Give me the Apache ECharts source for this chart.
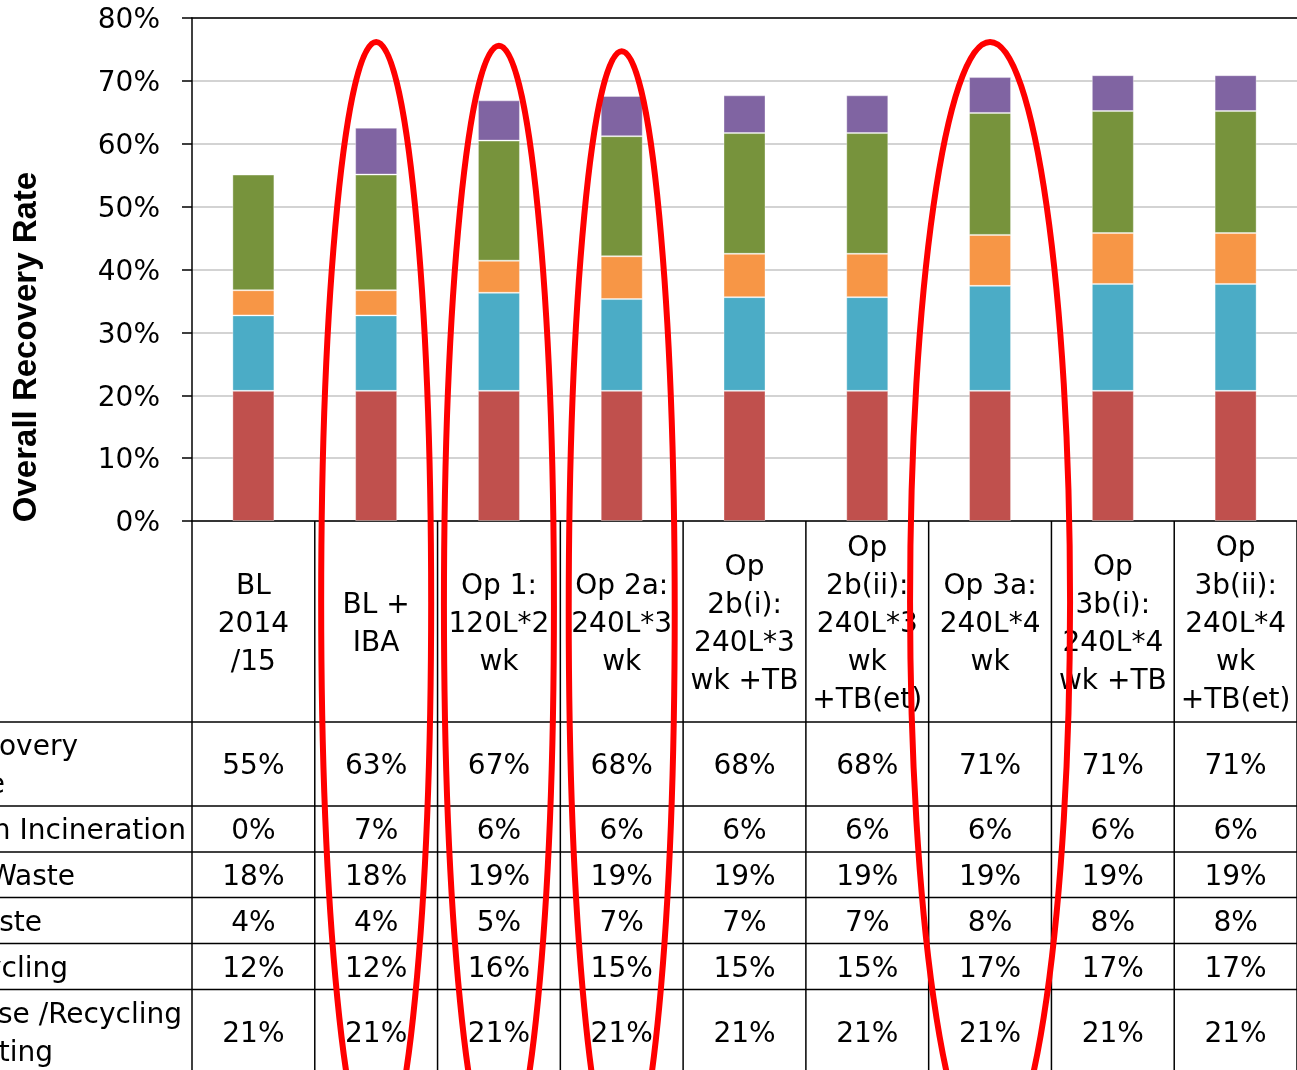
<!DOCTYPE html>
<html><head><meta charset="utf-8">
<script src="https://cdn.jsdelivr.net/npm/echarts@6/dist/echarts.min.js"></script>
<style>html,body{margin:0;padding:0;background:#fff}#c{width:1297px;height:1070px}</style>
</head><body><div id="c"></div>
<script>
// ---- data ----
const categories = ["BL\n2014\n/15", "BL +\nIBA", "Op 1:\n120L*2\nwk", "Op 2a:\n240L*3\nwk",
  "Op\n2b(i):\n240L*3\nwk +TB", "Op\n2b(ii):\n240L*3\nwk\n+TB(et)", "Op 3a:\n240L*4\nwk",
  "Op\n3b(i):\n240L*4\nwk +TB", "Op\n3b(ii):\n240L*4\nwk\n+TB(et)"];
const reuseRecycling = [20.7, 20.7, 20.7, 20.7, 20.7, 20.7, 20.7, 20.7, 20.7];
const dryRecycling   = [12.0, 12.0, 15.6, 14.6, 14.9, 14.9, 16.7, 17.0, 17.0];
const foodWaste      = [4.0, 4.0, 5.1, 6.8, 6.9, 6.9, 8.1, 8.1, 8.1];
const gardenWaste    = [18.4, 18.4, 19.1, 19.1, 19.2, 19.2, 19.4, 19.4, 19.4];
const incineration   = [0, 7.45, 6.4, 6.4, 6.0, 6.0, 5.7, 5.7, 5.7];
const yTicks = [0, 10, 20, 30, 40, 50, 60, 70, 80];
const axisTitle = "Overall Recovery Rate";
// table row labels (cropped on the left in the source)
const rowLabels = [["Overall Recovery", "Rate"], ["Recovery from Incineration"], ["Garden Waste"],
  ["Food Waste"], ["Dry Recycling"], ["HWRC Reuse /Recycling", "/Composting"]];
// annotation ellipses (category index, value at top of ellipse)
const ringCats = [1, 2, 3, 6];
const ringTops = [76.2, 75.6, 74.7, 76.2];

// ---- layout / style ----
const FONT = "DejaVu Sans";
const COLORS = {red: "#C0504D", blue: "#4BACC6", orange: "#F79646", green: "#77933C", purple: "#8064A2"};
const GRID = {left: 192, top: 18, width: 1109, height: 503};
const rowHeights = [201, 84, 46, 45.5, 46, 46, 84];
const rowLabelEnds = [[78, 5], [186], [75], [42], [68], [182, 53]];
const ringRx = [55, 55, 53, 80];
const ringRy = 560;
const TEXT_DY = 3;

const chart = echarts.init(document.getElementById('c'), null, {renderer: 'canvas'});

function barSeries(name, data, color) {
  return {
    name, type: 'bar', stack: 'total', data, barWidth: 42,
    itemStyle: {color, borderColor: 'rgba(255,255,255,0.35)', borderWidth: 1},
    emphasis: {disabled: true}
  };
}

chart.setOption({
  animation: false,
  backgroundColor: '#fff',
  grid: Object.assign({containLabel: false}, GRID),
  xAxis: [{
    type: 'category', data: categories, position: 'bottom',
    axisLine: {lineStyle: {color: '#000', width: 1.5}},
    axisTick: {show: false},
    axisLabel: {interval: 0, color: '#000', fontFamily: FONT, fontSize: 28, lineHeight: 38,
      verticalAlign: 'middle', margin: 101 + TEXT_DY}
  }, {
    type: 'category', data: categories, position: 'top',
    axisLine: {lineStyle: {color: '#000', width: 1.5}},
    axisTick: {show: false}, axisLabel: {show: false}
  }],
  yAxis: {
    type: 'value', min: yTicks[0], max: yTicks[yTicks.length - 1], interval: 10,
    axisLine: {show: true, lineStyle: {color: '#000', width: 1.5}},
    axisTick: {show: true, inside: false, length: 10, lineStyle: {color: '#000', width: 1.5}},
    axisLabel: {formatter: '{value}%', color: '#000', fontFamily: FONT, fontSize: 28, margin: 32,
      verticalAlign: 'top', lineHeight: TEXT_DY * 2},
    splitLine: {lineStyle: {color: '#C4C4C4', width: 1.5}}
  },
  series: [
    barSeries('Reuse /Recycling', reuseRecycling, COLORS.red),
    barSeries('Dry Recycling', dryRecycling, COLORS.blue),
    barSeries('Food Waste', foodWaste, COLORS.orange),
    barSeries('Garden Waste', gardenWaste, COLORS.green),
    barSeries('Incineration', incineration, COLORS.purple)
  ]
});

// ---- data table + annotations ----
const xc = i => chart.convertToPixel({xAxisIndex: 0}, i);
const yp = v => chart.convertToPixel({yAxisIndex: 0}, v);
const band = xc(1) - xc(0);
const x0 = xc(0) - band / 2;
const yAxisPx = yp(0);
const rowTops = [];
let acc = yAxisPx;
rowHeights.forEach(h => { rowTops.push(acc); acc += h; });
const tableBottom = acc;

const totals = categories.map((_, i) => reuseRecycling[i] + dryRecycling[i] + foodWaste[i] + gardenWaste[i] + incineration[i]);
const tableRows = [totals, incineration, gardenWaste, foodWaste, dryRecycling, reuseRecycling];

const els = [];
const lineStyle = {stroke: '#000', lineWidth: 1.5};
// horizontal lines
for (let r = 1; r < rowTops.length; r++) {
  els.push({type: 'line', z: 50, shape: {x1: 0, y1: rowTops[r], x2: 1297, y2: rowTops[r]}, style: lineStyle});
}
// vertical lines
for (let k = 0; k <= categories.length; k++) {
  const x = x0 + k * band;
  els.push({type: 'line', z: 50, shape: {x1: x, y1: yAxisPx, x2: x, y2: tableBottom + 10}, style: lineStyle});
}
// cell values
tableRows.forEach((arr, r) => {
  const cy = rowTops[r + 1] + rowHeights[r + 1] / 2 + TEXT_DY;
  arr.forEach((v, i) => {
    els.push({type: 'text', z: 60, x: xc(i), y: cy,
      style: {text: Math.round(v) + '%', fill: '#000', font: '28px "' + FONT + '"', align: 'center', verticalAlign: 'middle'}});
  });
  // row labels
  const lines = rowLabels[r];
  const lh = 38;
  lines.forEach((t, li) => {
    const ly = cy + (li - (lines.length - 1) / 2) * lh;
    els.push({type: 'text', z: 60, x: rowLabelEnds[r][li], y: ly,
      style: {text: t, fill: '#000', font: '28px "' + FONT + '"', align: 'right', verticalAlign: 'middle'}});
  });
});
// y axis title
els.push({type: 'text', z: 60, x: 27, y: 347, rotation: Math.PI / 2,
  style: {text: axisTitle, fill: '#000', font: 'bold 33px "Liberation Sans"', align: 'center', verticalAlign: 'middle'}});
// red annotation ellipses
ringCats.forEach((c, j) => {
  const top = yp(ringTops[j]);
  els.push({type: 'ellipse', z: 100, shape: {cx: xc(c), cy: top + ringRy, rx: ringRx[j], ry: ringRy},
    style: {fill: 'none', stroke: '#FF0000', lineWidth: 6}});
});
chart.setOption({graphic: {elements: els}});
</script>
</body></html>
